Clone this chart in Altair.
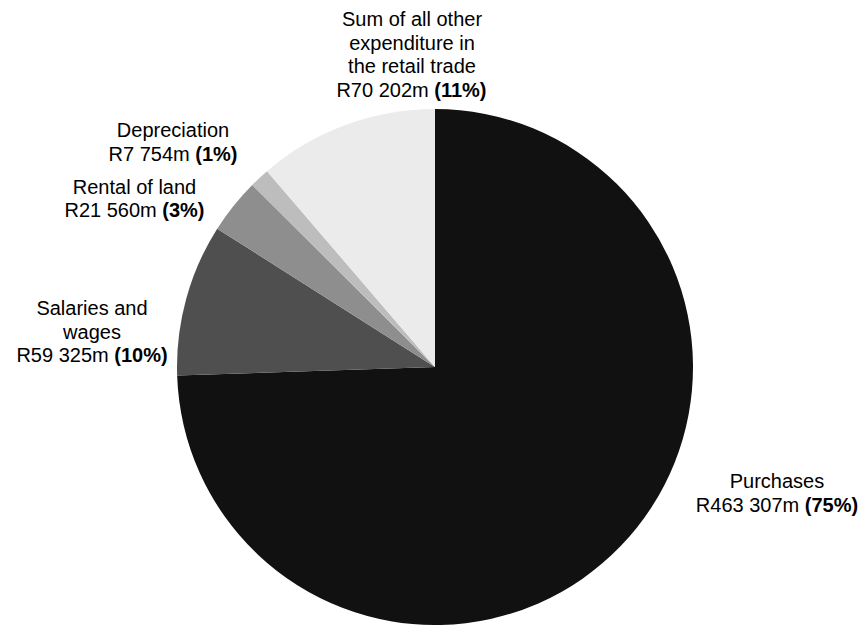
import altair as alt
import pandas as pd

# Retail trade expenditure, R million
categories = [
    "Purchases",
    "Salaries and wages",
    "Rental of land",
    "Depreciation",
    "Sum of all other expenditure in the retail trade",
]
values_rm = [463307, 59325, 21560, 7754, 70202]
shares_pct = [75, 10, 3, 1, 11]
name_lines = [
    ["Purchases"],
    ["Salaries and", "wages"],
    ["Rental of land"],
    ["Depreciation"],
    ["Sum of all other", "expenditure in", "the retail trade"],
]

# grey tones standing in for the hatch fills
fills = ["#111111", "#4f4f4f", "#8e8e8e", "#bdbdbd", "#ebebeb"]

# layout: pie centre/radius and label anchors (centre x, first baseline y)
PIE_X, PIE_Y, PIE_R = 435, 367, 258
label_anchor = [(777, 488), (92, 315), (134.5, 193.5), (173, 137), (412, 26)]
FONT = "Liberation Sans"
FS = 20
LINE_H = 23.5

# Arial / Liberation Sans advance widths (units per 1000 em)
REG_W = {"R": 722, " ": 278, "m": 833, **{d: 556 for d in "0123456789"}}
BOLD_W = {"(": 333, ")": 333, "%": 889, **{d: 556 for d in "0123456789"}}


def width(s, table):
    return sum(table[c] for c in s) * FS / 1000


slices = pd.DataFrame(
    {"category": categories, "value": values_rm, "order": range(len(categories))}
)

centre_rows, value_rows, pct_rows = [], [], []
for lines, v, p, (cx, y0) in zip(name_lines, values_rm, shares_pct, label_anchor):
    for i, line in enumerate(lines):
        centre_rows.append({"text": line, "x": cx, "y": y0 + i * LINE_H})
    y_last = y0 + len(lines) * LINE_H
    val_txt = f"R{v // 1000} {v % 1000:03d}m "
    pct_txt = f"({p}%)"
    w_val, w_pct = width(val_txt, REG_W), width(pct_txt, BOLD_W)
    left = cx - (w_val + w_pct) / 2
    value_rows.append({"text": val_txt.strip(), "x": left, "y": y_last})
    pct_rows.append({"text": pct_txt, "x": left + w_val, "y": y_last})

pie = (
    alt.Chart(slices)
    .mark_arc(radius=PIE_R)
    .encode(
        theta=alt.Theta("value:Q", stack=True),
        color=alt.Color(
            "category:N",
            scale=alt.Scale(domain=categories, range=fills),
            legend=None,
        ),
        order=alt.Order("order:Q"),
        x=alt.value(PIE_X),
        y=alt.value(PIE_Y),
    )
)


def text_layer(rows, align, weight):
    return (
        alt.Chart(pd.DataFrame(rows))
        .mark_text(
            font=FONT,
            fontSize=FS,
            fontWeight=weight,
            align=align,
            baseline="alphabetic",
            color="#000000",
        )
        .encode(
            x=alt.X("x:Q", scale=None, axis=None),
            y=alt.Y("y:Q", scale=None, axis=None),
            text="text:N",
        )
    )


chart = (
    alt.layer(
        pie,
        text_layer(centre_rows, "center", "normal"),
        text_layer(value_rows, "left", "normal"),
        text_layer(pct_rows, "left", "bold"),
    )
    .properties(
        width=858,
        height=625,
        autosize=alt.AutoSizeParams(type="none"),
        padding=0,
        background="#ffffff",
    )
    .configure_view(strokeWidth=0)
)

chart.save("out.html", embed_options={"renderer": "svg", "actions": False})
